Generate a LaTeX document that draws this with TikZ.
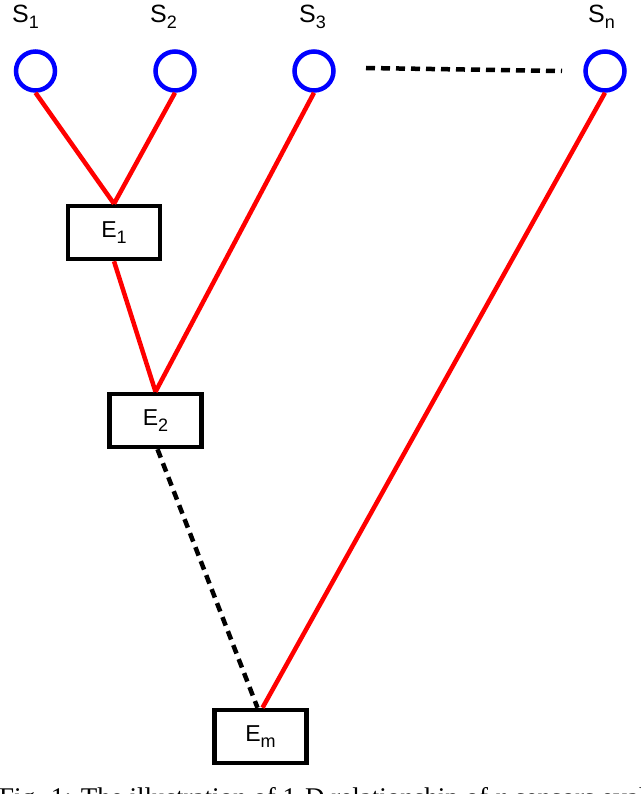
\documentclass[tikz,border=0pt]{standalone}
\usepackage{fontspec}
\setmainfont{Liberation Serif}
\newfontfamily\lsans{Liberation Sans}
\newcommand\mysub[1]{\raisebox{-6pt}{\fontsize{18}{18}\selectfont #1}}
\begin{document}
\begin{tikzpicture}[x=1pt,y=-1pt,
  sensor/.style={circle, draw=blue, line width=4.5pt, minimum size=39pt, inner sep=0pt},
  ebox/.style={draw=black, line width=4.5pt, minimum width=92pt, minimum height=53pt, inner sep=0pt,
    font=\lsans\fontsize{23}{23}\selectfont},
  lbl/.style={anchor=base west, inner sep=0pt, font=\lsans\fontsize{25}{25}\selectfont},
  link/.style={draw=red, line width=4.5pt},
  dlink/.style={draw=black, line width=4.5pt, dash pattern=on 9pt off 6pt}]
\useasboundingbox (0,0) rectangle (640,794);
\clip (0,0) rectangle (640,794);
\fill[white] (0,0) rectangle (640,794);

\node[sensor] (s1) at (35.5,71) {};
\node[sensor] (s2) at (175,71) {};
\node[sensor] (s3) at (314,71) {};
\node[sensor] (sn) at (605,71) {};

\node[lbl] (l1) at (12,23) {S\mysub{1}};
\node[lbl] (l2) at (150,23) {S\mysub{2}};
\node[lbl] (l3) at (299,23) {S\mysub{3}};
\node[lbl] (ln) at (588,23) {S\mysub{n}};

\node[ebox] (e1) at (114,232.5) {E\mysub{1}};
\node[ebox] (e2) at (155.5,420.5) {E\mysub{2}};
\node[ebox] (em) at (260.5,736.5) {E\mysub{m}};

\coordinate (d1) at (366,68);
\coordinate (d2) at (562,71);
\draw[dlink] (d1) -- (d2);

\draw[link] (s1.south) -- (e1.north);
\draw[link] (s2.south) -- (e1.north);
\draw[link] (e1.south) -- (e2.north);
\draw[link] (s3.south) -- (e2.north);
\draw[link] (sn.south) -- ([xshift=2pt]em.north);
\draw[dlink] ([xshift=2pt]e2.south) -- ([xshift=-3pt]em.north);

\node[anchor=base west, inner sep=0pt, font=\fontsize{27}{27}\selectfont] (cap) at (-1,806.5)
  {Fig. 1: The illustration of 1-D relationship of \textit{n} sensors eval};
\end{tikzpicture}
\end{document}
